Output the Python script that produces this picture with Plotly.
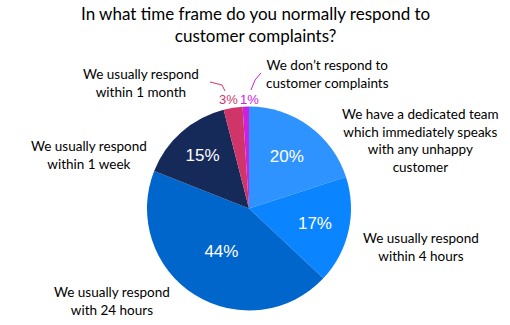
import plotly.graph_objects as go

W, H = 510, 325

categories = [
    "We have a dedicated team which immediately speaks with any unhappy customer",
    "We usually respond within 4 hours",
    "We usually respond with 24 hours",
    "We usually respond within 1 week",
    "We usually respond within 1 month",
    "We don't respond to customer complaints",
]
values = [20, 17, 44, 15, 3, 1]
colors = ["#2E93FF", "#0A85FF", "#0066CC", "#162A5A", "#D0356A", "#CC22DD"]
inside_text = ["20%", "17%", "44%", "15%", "", ""]

label_texts = [
    "We have a dedicated team<br>which immediately speaks<br>with any unhappy<br>customer",
    "We usually respond<br>within 4 hours",
    "We usually respond<br>with 24 hours",
    "We usually respond<br>within 1 week",
    "We usually respond<br>within 1 month",
    "We don\u2019t respond to<br>customer complaints",
]
label_pos = [(420, 141), (421, 247), (112, 301), (89, 155), (141, 83), (327, 74)]

small_pcts = ["3%", "1%"]
small_pos = [(228, 99), (249, 99)]
small_colors = [colors[4], colors[5]]


def px(x):
    return x / W


def py(y):
    return 1 - y / H


fig = go.Figure(go.Pie(
    labels=categories,
    values=values,
    text=inside_text,
    textinfo="text",
    textposition="inside",
    insidetextorientation="horizontal",
    textfont=dict(family="Liberation Sans, Arial, sans-serif", size=17, color="white"),
    marker=dict(colors=colors, line=dict(width=0)),
    sort=False,
    direction="clockwise",
    rotation=0,
    hole=0,
    domain=dict(x=[px(147), px(351)], y=[py(311), py(106)]),
    showlegend=False,
))

annotations = []
for t, (x, y) in zip(label_texts, label_pos):
    annotations.append(dict(
        text=t, x=px(x), y=py(y), xref="paper", yref="paper",
        showarrow=False, xanchor="center", yanchor="middle", align="center",
        font=dict(family="Lato, sans-serif", size=13.5, color="#000000"),
    ))
for t, (x, y), c in zip(small_pcts, small_pos, small_colors):
    annotations.append(dict(
        text=t, x=px(x), y=py(y), xref="paper", yref="paper",
        showarrow=False, xanchor="center", yanchor="middle",
        font=dict(family="Liberation Sans, Arial, sans-serif", size=13, color=c),
    ))
annotations.append(dict(
    text="In what time frame do you normally respond to<br>customer complaints?",
    x=0.5, y=py(25), xref="paper", yref="paper", showarrow=False,
    xanchor="center", yanchor="middle", align="center",
    font=dict(family="Lato, sans-serif", size=17, color="#000000"),
))

leader_paths = [
    [(210, 82), (222, 85), (225, 91)],
    [(261, 73), (255, 80), (251, 90)],
]
shapes = []
for pts, c in zip(leader_paths, small_colors):
    path = "M " + " L ".join(f"{px(x)},{py(y)}" for x, y in pts)
    shapes.append(dict(type="path", path=path, xref="paper", yref="paper",
                       line=dict(color=c, width=1)))

fig.update_layout(
    width=W, height=H,
    margin=dict(l=0, r=0, t=0, b=0),
    paper_bgcolor="white", plot_bgcolor="white",
    annotations=annotations, shapes=shapes,
)

fig.write_html("out.html")
